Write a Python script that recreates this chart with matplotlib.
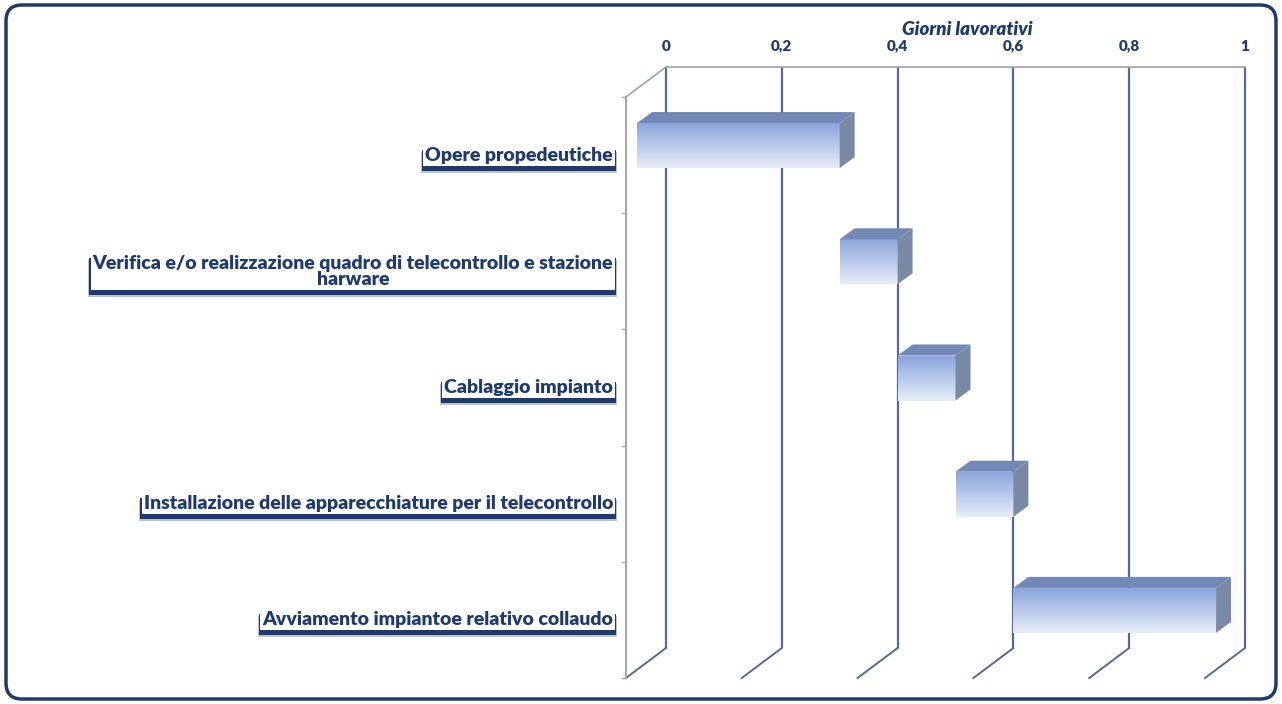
import matplotlib
matplotlib.use('Agg')
import matplotlib.pyplot as plt
import numpy as np
from matplotlib.patches import Polygon, FancyBboxPatch, Rectangle
import matplotlib.transforms as mtransforms

# ---- data ----
tasks = ["Opere propedeutiche",
         "Verifica e/o realizzazione quadro di telecontrollo e stazione\nharware",
         "Cablaggio impianto",
         "Installazione delle apparecchiature per il telecontrollo",
         "Avviamento impiantoe relativo collaudo"]
starts = [-0.05, 0.3, 0.4, 0.5, 0.6]
durations = [0.35, 0.1, 0.1, 0.1, 0.35]
xticks = [0, 0.2, 0.4, 0.6, 0.8, 1.0]
xticklabels = ["0", "0,2", "0,4", "0,6", "0,8", "1"]
axis_title = "Giorni lavorativi"

# ---- styling ----
navy = '#1f3b6b'
grid_c = '#52699a'
wall_c = '#a8a8a8'
FONT = ['Lato', 'DejaVu Sans']

W, H = 1282, 704
fig = plt.figure(figsize=(W / 100, H / 100), dpi=100)
ax = fig.add_axes([0, 0, 1, 1])
ax.axis('off')

X0, X1 = 666, 1245     # pixel x of value 0 and 1 on back wall
Y0, Y1 = 67, 648       # top / bottom of back wall
n = len(tasks)
sx = (X1 - X0)
sy = (Y1 - Y0) / n
ax.set_xlim(-X0 / sx, (W - X0) / sx)
ax.set_ylim((H - Y0) / sy, -Y0 / sy)

def px(dx):
    return dx / sx

def py(dy):
    return dy / sy

DX, DY = -40, 30   # depth offset of front plane in pixels

# back wall gridlines
for t in xticks:
    ax.plot([t, t], [0, n], color=grid_c, lw=1.6, solid_capstyle='butt', zorder=1)
    ax.plot([t, t + px(DX)], [n, n + py(DY)], color=grid_c, lw=1.4, zorder=1)
ax.plot([0, 1], [0, 0], color='#9aa3b3', lw=1.2, zorder=1)
ax.plot([0, px(DX)], [0, py(DY)], color='#9aa3b3', lw=1.2, zorder=1)
# left wall
ax.plot([px(DX)] * 2, [py(DY), n + py(DY)], color=wall_c, lw=1.5, zorder=1)
for i in range(n + 1):
    ax.plot([px(DX - 4), px(DX)], [i + py(DY)] * 2, color=wall_c, lw=1.0, zorder=1)

# tick labels and title
for t, lab in zip(xticks, xticklabels):
    ax.text(t, py(46 - Y0), lab, ha='center', va='center', fontsize=11,
            fontweight='heavy', color=navy, family=FONT)
ax.text(px(967 - X0), py(29 - Y0), axis_title, ha='center', va='center',
        fontsize=13.5, fontweight='heavy', style='italic', color=navy, family=FONT)

# bars
top_col = np.array([0.55, 0.65, 0.86])
bot_col = np.array([0.90, 0.93, 0.97])
grad = np.linspace(0, 1, 64)[:, None, None] * (bot_col - top_col) + top_col
grad = np.repeat(grad, 2, axis=1)
bh = py(45)
ddx, ddy = px(15), py(11)
for i, (s, d) in enumerate(zip(starts, durations)):
    yc = i + 0.5 + py(20.5)
    x0, x1 = s, s + d
    yt, yb = yc - bh / 2, yc + bh / 2
    ax.imshow(grad, extent=[x0, x1, yb, yt], origin='upper', aspect='auto',
              zorder=3, interpolation='bilinear')
    ax.add_patch(Polygon([(x0, yt), (x1, yt), (x1 + ddx, yt - ddy), (x0 + ddx, yt - ddy)],
                         closed=True, fc='#7189b4', ec='none', zorder=3))
    ax.add_patch(Polygon([(x1, yt), (x1 + ddx, yt - ddy), (x1 + ddx, yb - ddy), (x1, yb)],
                         closed=True, fc='#7a89a6', ec='none', zorder=3))

ax.set_xlim(-X0 / sx, (W - X0) / sx)
ax.set_ylim((H - Y0) / sy, -Y0 / sy)

# category labels with shadowed boxes
labels = []
for i, lab in enumerate(tasks):
    y = i + 0.5 + py(DY)
    x = px(613 - X0)
    t = ax.text(x, y, lab, ha='right', va='center', multialignment='center', fontsize=14,
                fontweight='heavy', color=navy, family=FONT, zorder=5, linespacing=0.9,
                bbox=dict(boxstyle='square,pad=0.1', fc='white', ec='none'))
    labels.append(t)

fig.canvas.draw()
renderer = fig.canvas.get_renderer()
for t in labels:
    bb = t.get_bbox_patch().get_window_extent(renderer)
    ax.add_patch(Rectangle((bb.x0 - 1.5, bb.y0 - 5), bb.width + 3, bb.height,
                           transform=mtransforms.IdentityTransform(), fc=navy, ec='none',
                           zorder=4.5))
    ax.add_patch(Rectangle((bb.x0 - 2.5, bb.y0 - 7), bb.width + 5, bb.height,
                           transform=mtransforms.IdentityTransform(), fc=navy, ec='none',
                           alpha=0.3, zorder=4.4))

# outer rounded border
border = FancyBboxPatch((6, 5), W - 12, H - 10, boxstyle='round,pad=0,rounding_size=16',
                        transform=mtransforms.IdentityTransform(), fc='none', ec=navy,
                        lw=2.5, zorder=10)
fig.patches.append(border)

fig.savefig('out.png', dpi=100, facecolor='white')
